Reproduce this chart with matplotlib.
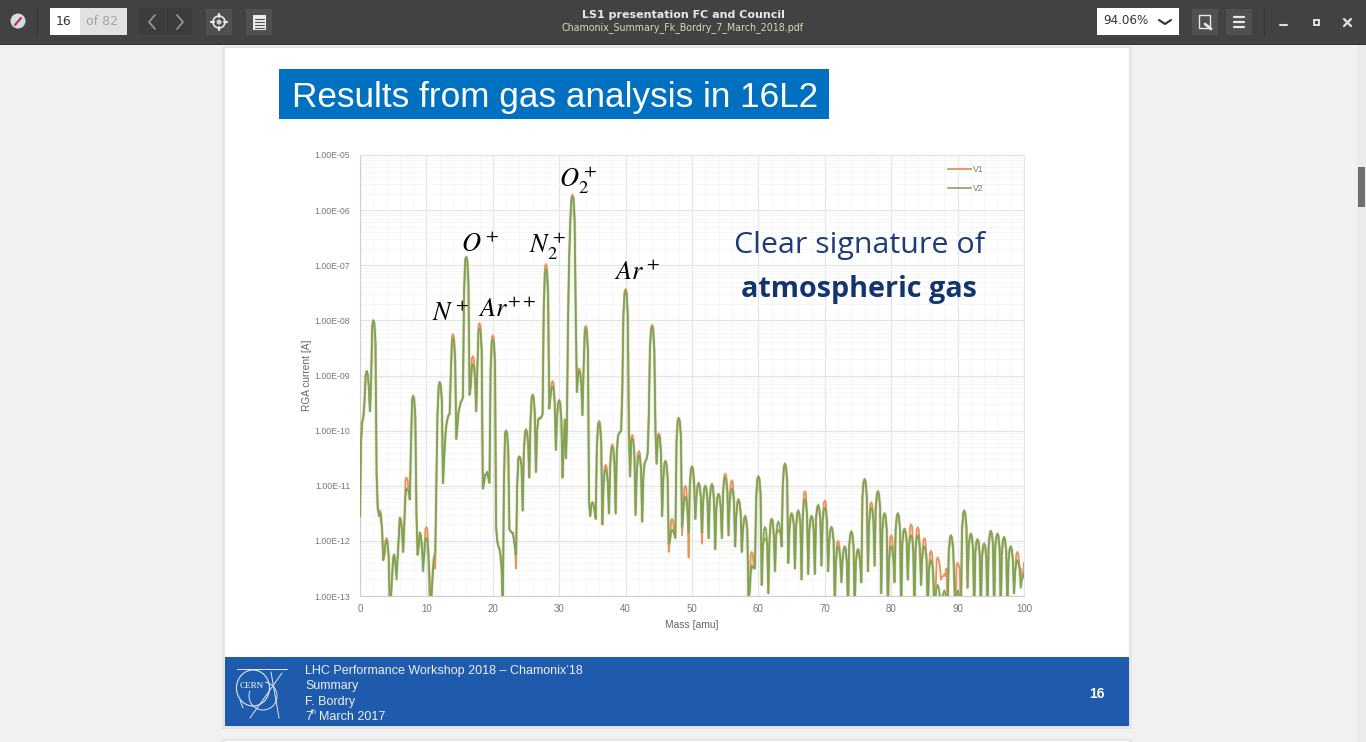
import numpy as np
import matplotlib
matplotlib.use('Agg')
import matplotlib.pyplot as plt
from matplotlib.patches import Rectangle, Circle, Ellipse
from matplotlib.ticker import MultipleLocator, LogLocator, NullFormatter, FuncFormatter

plt.rcParams['mathtext.fontset'] = 'stix'
plt.rcParams['font.family'] = ['Liberation Sans', 'DejaVu Sans']

# sample points inside one amu
amu_steps = [0, 0.15, 0.33, 0.5, 0.67, 0.85]

# log10 of RGA current, one row per amu, at the amu_steps above
v2_log = [
    -11.55, -10.2, -9.85, -9.78, -9.5, -9.0,
    -8.92, -8.97, -9.2, -9.65, -9.1, -8.1,
    -8.0, -8.05, -8.4, -10.8, -11.4, -11.55,
    -11.5, -11.6, -11.8, -12.35, -12.25, -12.05,
    -12.0, -12.05, -12.3, -13.3, -13.0, -12.6,
    -12.3, -12.25, -12.4, -12.7, -12.3, -11.9,
    -11.58, -11.62, -11.8, -12.2, -11.7, -11.2,
    -11.05, -11.07, -11.1, -11.25, -10.3, -9.45,
    -9.37, -9.42, -9.75, -11.5, -12.25, -12.1,
    -11.85, -11.9, -12.1, -12.55, -12.25, -12.0,
    -11.95, -12.0, -12.3, -12.7, -13.2, -12.8,
    -12.5, -12.3, -12.2, -11.0, -9.7, -9.2,
    -9.12, -9.17, -9.45, -10.95, -10.5, -10.1,
    -9.9, -9.8, -9.72, -9.7, -9.0, -8.4,
    -8.33, -8.38, -8.7, -10.15, -9.9, -9.65,
    -9.58, -9.5, -9.45, -9.4, -7.5, -6.9,
    -6.85, -6.9, -7.3, -9.35, -9.2, -8.85,
    -8.8, -8.85, -9.05, -9.65, -8.9, -8.2,
    -8.15, -8.2, -8.55, -11.05, -10.95, -10.8,
    -10.8, -10.75, -10.85, -10.95, -8.9, -8.4,
    -8.35, -8.4, -8.75, -11.75, -12.0, -12.1,
    -12.15, -12.25, -12.5, -13.3, -11.0, -10.05,
    -10.0, -10.05, -10.35, -11.8, -11.82, -11.85,
    -11.85, -11.95, -12.1, -12.25, -11.0, -10.5,
    -10.47, -10.5, -10.65, -11.45, -10.4, -10.03,
    -9.98, -10.02, -10.25, -10.85, -9.85, -9.4,
    -9.35, -9.4, -9.7, -10.75, -10.0, -9.8,
    -9.77, -9.78, -9.75, -9.7, -7.8, -7.15,
    -7.08, -7.13, -7.5, -9.6, -9.4, -9.25,
    -9.2, -9.25, -9.5, -10.35, -9.75, -9.5,
    -9.45, -9.5, -9.8, -10.85, -10.3, -9.8,
    -10.5, -10.0, -8.0, -6.9, -6.2, -5.82,
    -5.76, -5.8, -6.2, -8.0, -9.3, -9.0,
    -8.92, -8.96, -9.15, -9.72, -8.9, -8.25,
    -8.15, -8.2, -8.55, -11.3, -11.55, -11.35,
    -11.3, -11.33, -11.45, -11.6, -10.3, -9.92,
    -9.87, -9.92, -10.2, -11.7, -11.0, -10.75,
    -10.7, -10.75, -10.95, -11.5, -10.65, -10.35,
    -10.3, -10.35, -10.6, -11.5, -10.4, -10.1,
    -10.05, -10.03, -10.0, -9.3, -7.9, -7.52,
    -7.47, -7.52, -7.9, -10.0, -10.83, -10.2,
    -10.15, -10.2, -10.45, -11.53, -10.8, -10.5,
    -10.45, -10.5, -10.7, -11.65, -10.85, -10.6,
    -10.55, -10.52, -10.4, -9.7, -8.5, -8.17,
    -8.12, -8.17, -8.55, -10.0, -10.6, -10.15,
    -10.08, -10.13, -10.4, -11.55, -10.9, -10.6,
    -10.55, -10.6, -10.85, -12.05, -12.0, -11.85,
    -11.8, -11.82, -11.88, -11.95, -10.2, -9.82,
    -9.77, -9.82, -10.1, -11.75, -11.5, -11.25,
    -11.2, -11.25, -11.45, -11.85, -11.0, -10.7,
    -10.65, -10.7, -10.95, -11.6, -11.2, -11.0,
    -10.95, -11.0, -11.2, -11.85, -11.3, -11.05,
    -11.0, -11.05, -11.25, -11.95, -11.25, -11.02,
    -10.97, -11.02, -11.3, -12.15, -11.4, -11.2,
    -11.15, -11.2, -11.4, -11.95, -11.15, -10.9,
    -10.85, -10.9, -11.1, -11.9, -11.3, -11.1,
    -11.05, -11.1, -11.3, -12.1, -11.55, -11.3,
    -11.25, -11.3, -11.5, -12.2, -11.8, -11.6,
    -11.55, -11.6, -11.8, -13.0, -12.95, -12.6,
    -12.45, -12.47, -12.5, -12.5, -11.2, -10.88,
    -10.83, -10.88, -11.15, -12.8, -12.1, -11.8,
    -11.75, -11.8, -12.05, -12.95, -12.0, -11.65,
    -11.6, -11.65, -11.9, -12.55, -11.9, -11.7,
    -11.65, -11.7, -11.85, -12.1, -11.0, -10.65,
    -10.6, -10.65, -10.9, -12.4, -11.8, -11.55,
    -11.5, -11.55, -11.7, -12.5, -11.75, -11.5,
    -11.45, -11.5, -11.7, -12.7, -11.6, -11.3,
    -11.25, -11.3, -11.55, -12.6, -11.8, -11.6,
    -11.55, -11.6, -11.8, -12.6, -11.6, -11.4,
    -11.35, -11.4, -11.6, -12.45, -11.65, -11.45,
    -11.4, -11.45, -11.65, -12.55, -12.0, -11.8,
    -11.75, -11.8, -12.0, -13.0, -12.4, -12.15,
    -12.1, -12.15, -12.3, -12.75, -12.35, -12.15,
    -12.1, -12.15, -12.4, -13.3, -12.1, -11.88,
    -11.83, -11.88, -12.1, -13.3, -12.4, -12.2,
    -12.15, -12.2, -12.4, -12.75, -11.2, -10.93,
    -10.88, -10.93, -11.2, -12.55, -11.7, -11.45,
    -11.4, -11.45, -11.65, -12.45, -11.4, -11.15,
    -11.1, -11.15, -11.4, -12.95, -11.8, -11.55,
    -11.5, -11.55, -11.8, -13.3, -12.35, -12.15,
    -12.1, -12.15, -12.3, -12.75, -11.8, -11.55,
    -11.5, -11.55, -11.8, -13.3, -12.05, -11.83,
    -11.78, -11.83, -12.0, -12.7, -12.1, -11.95,
    -11.9, -11.95, -12.2, -13.3, -12.15, -11.95,
    -11.9, -11.95, -12.15, -12.8, -12.3, -12.15,
    -12.1, -12.15, -12.35, -13.3, -12.55, -12.4,
    -12.35, -12.4, -12.6, -13.3, -13.0, -12.85,
    -12.8, -12.85, -13.0, -13.3, -13.1, -12.95,
    -12.9, -12.95, -13.1, -13.3, -12.2, -11.95,
    -11.9, -11.95, -12.15, -12.7, -13.3, -13.0,
    -12.9, -12.95, -13.1, -13.3, -11.8, -11.5,
    -11.45, -11.5, -11.75, -12.85, -12.1, -11.92,
    -11.87, -11.92, -12.15, -13.3, -12.2, -12.02,
    -11.97, -12.02, -12.25, -13.3, -12.3, -12.1,
    -12.05, -12.1, -12.3, -13.3, -12.1, -11.87,
    -11.82, -11.87, -12.05, -13.3, -12.1, -11.92,
    -11.87, -11.92, -12.15, -13.3, -12.2, -11.98,
    -11.93, -11.98, -12.2, -13.3, -12.35, -12.15,
    -12.1, -12.15, -12.35, -12.95, -12.55, -12.4,
    -12.35, -12.4, -12.5, -12.85, -12.7, -12.65,
    -12.6,
]

# V1 follows V2 except at these masses, where the orange line shows
v1_mass = [0.5, 3, 4, 5.5, 7, 9.5, 10, 10.5, 11.33, 14, 17, 18, 20, 23.5, 28, 29,
           32, 33, 34, 36, 37, 38, 40, 41, 42, 44, 45, 46.5, 47, 47.5, 48.5, 49,
           49.5, 51.5, 55, 56, 59, 59.5, 61, 63, 63.5, 67, 70, 71.5, 72, 77, 80,
           83, 84, 85, 86, 87, 87.33, 87.5, 87.67, 88, 88.33, 90, 90.33, 99, 99.5, 100]
v1_val = [-9.72, -11.45, -11.95, -12.6, -10.85, -12.4, -11.75, -13.3, -12.5, -8.25, -8.65, -8.05, -8.27, -12.5, -6.98, -9.1,
          -5.72, -8.87, -8.1, -9.82, -10.62, -10.25, -7.43, -10.08, -10.37, -8.08, -10.05, -12.2, -11.6, -11.9, -11.9, -11.0,
          -12.3, -12.05, -10.78, -10.9, -12.2, -12.2, -11.95, -11.8, -12.1, -11.1, -11.27, -13.3, -12.0, -11.3, -11.9,
          -11.7, -11.75, -11.95, -12.18, -12.3, -12.45, -12.7, -12.65, -12.6, -12.5, -12.4, -12.5, -12.2, -12.5, -12.4]

mass = np.array([n + s for n in range(101) for s in amu_steps])[:len(v2_log)]
v2 = 10.0 ** np.array(v2_log)
v1_l = np.array(v2_log)
for m, val in zip(v1_mass, v1_val):
    i = int(np.argmin(np.abs(mass - m)))
    v1_l[i] = val
    if float(m).is_integer() and 0 < i < len(v1_l) - 1:
        v1_l[i - 1] = val - 0.04   # round the cap of the arch
        v1_l[i + 1] = val - 0.04
v1 = 10.0 ** v1_l

peak_labels = [(432, 314, r'$N^+$'), (461, 245, r'$O^+$'), (478, 310, r'$Ar^{++}$'),
               (529, 246, r'$N_2^+$'), (559, 180, r'$O_2^+$'), (614, 273, r'$Ar^+$')]
footer_lines = ["LHC Performance Workshop 2018 \u2013 Chamonix\u201918", "Summary", "F. Bordry"]

W, H = 1366, 742
fig = plt.figure(figsize=(W / 100, H / 100), dpi=100, facecolor='#f1f1f1')

# page, toolbar etc. drawn in pixel coordinates
bg = fig.add_axes([0, 0, 1, 1])
bg.set_xlim(0, W)
bg.set_ylim(H, 0)
bg.axis('off')

def box(x0, y0, x1, y1, c, z=1, **kw):
    bg.add_patch(Rectangle((x0, y0), x1 - x0, y1 - y0, facecolor=c, edgecolor='none', zorder=z, **kw))

def seg(xs, ys, c='white', lw=1.0, z=3):
    bg.plot(xs, ys, color=c, lw=lw, zorder=z, solid_capstyle='round')

box(222, 46, 1132, 729, '#e6e6e6')
box(225, 48, 1129, 726, 'white')
box(222, 739, 1132, 742, '#e4e4e4')
box(225, 741, 1129, 742, 'white', z=2)
box(0, 0, W, 44, '#424242')
box(0, 44, W, 45, '#333333')
box(1357, 45, W, H, '#ebebeb')
box(1358, 167, 1365, 207, '#6f6f6f')

# toolbar left
bg.add_patch(Circle((18, 21), 7.5, facecolor='#cfdde8', edgecolor='none', zorder=2))
seg([15, 21], [25, 18], '#c8343a', 1.6)
seg([37, 37], [8, 35], '#383838', 1)
box(50, 8, 80, 35, 'white')
box(80, 8, 127, 35, '#e2e2e2')
bg.text(56, 21.5, '16', fontsize=9, family='DejaVu Sans', color='#333333', va='center', zorder=3)
bg.text(86, 21.5, 'of 82', fontsize=9, family='DejaVu Sans', color='#a3a3a3', va='center', zorder=3)
box(139, 8, 165, 35, '#3c3c3c')
box(166, 8, 192, 35, '#3c3c3c')
seg([155, 149, 155], [15, 22, 29], '#9a9a9a', 1.2)
seg([177, 183, 177], [15, 22, 29], '#9a9a9a', 1.2)
box(206, 9, 232, 35, '#505050')
box(246, 9, 272, 35, '#505050')
bg.add_patch(Circle((219, 22), 6, facecolor='none', edgecolor='#e8e8e8', lw=1.2, zorder=3))
bg.add_patch(Circle((219, 22), 2.5, facecolor='#d0d0d0', edgecolor='none', zorder=3))
seg([211, 214], [22, 22], '#e8e8e8', 1.6)
seg([224, 227], [22, 22], '#e8e8e8', 1.6)
seg([219, 219], [14, 17], '#e8e8e8', 1.6)
seg([219, 219], [27, 30], '#e8e8e8', 1.6)
box(253, 15, 266, 30, '#eeeeee', z=3)
for yy in (19, 22, 25, 27.5):
    seg([255, 264], [yy, yy], '#505050', 0.8, z=4)

# toolbar middle
bg.text(683, 15, 'LS1 presentation FC and Council', fontsize=8, family='DejaVu Sans', weight='bold',
        color='#e8e8e8', ha='center', va='center', zorder=3)
bg.text(683, 28, 'Chamonix_Summary_Fk_Bordry_7_March_2018.pdf', fontsize=6.85, family='DejaVu Sans',
        color='#d8d8b8', ha='center', va='center', zorder=3)

# toolbar right
box(1097, 8, 1179, 35, 'white')
bg.text(1103, 21, '94.06%', fontsize=8.6, family='DejaVu Sans', color='#333333', va='center', zorder=3)
seg([1159, 1165, 1171], [20, 24, 20], '#333333', 1.5)
box(1192, 9, 1218, 35, '#505050')
box(1226, 9, 1252, 35, '#505050')
seg([1199, 1210, 1210, 1199, 1199], [15, 15, 28, 28, 15], '#e8e8e8', 1)
seg([1205, 1211], [24, 29], '#e8e8e8', 2)
for yy in (17, 22, 27):
    seg([1234, 1244], [yy, yy], '#e8e8e8', 1.6)
seg([1264, 1264], [8, 35], '#383838', 1)
seg([1280, 1287], [25, 25], '#e0e0e0', 1.5)
bg.add_patch(Rectangle((1313.5, 19.5), 5, 5, facecolor='none', edgecolor='#e0e0e0', lw=1.4, zorder=3))
seg([1344, 1351], [19, 26], '#e0e0e0', 1.6)
seg([1344, 1351], [26, 19], '#e0e0e0', 1.6)

# slide title
box(279, 69, 829, 119, '#0070c0', z=2)
bg.text(292, 97, 'Results from gas analysis in 16L2', fontsize=25.25, color='white', va='center', zorder=3)

# slide footer
box(225, 657, 1129, 726, '#1f5bad', z=2)
for i, s in enumerate(footer_lines):
    bg.text(305, 671 + i * 15.4, s, fontsize=9, color='#f0f0f0', va='center', zorder=3)
bg.text(305, 717, '7', fontsize=9, color='#f0f0f0', va='center', zorder=3)
bg.text(310.5, 713, 'th', fontsize=5, color='#f0f0f0', va='center', zorder=3)
bg.text(319, 717, 'March 2017', fontsize=9, color='#f0f0f0', va='center', zorder=3)
bg.text(1097, 694, '16', fontsize=10, weight='bold', color='white', ha='center', va='center', zorder=3)

# CERN logo
bg.add_patch(Ellipse((253, 688), 33, 36, facecolor='none', edgecolor='#dfe8f4', lw=0.8, zorder=3))
bg.add_patch(Circle((263, 696), 14, facecolor='none', edgecolor='#dfe8f4', lw=0.7, zorder=3))
seg([237, 287], [669, 669], '#dfe8f4', 0.7)
seg([271, 279], [672, 718], '#dfe8f4', 0.7)
seg([282, 250], [673, 718], '#dfe8f4', 0.7)
seg([240, 243], [700, 708], '#dfe8f4', 0.7)
bg.text(252, 686, 'CERN', fontsize=6.6, family='Liberation Serif', color='white', ha='center', va='center', zorder=4,
        bbox=dict(facecolor='#1f5bad', edgecolor='none', pad=0.5))

# the chart
x0, x1, y0, y1 = 360, 1024, 155, 596
ax = fig.add_axes([x0 / W, 1 - y1 / H, (x1 - x0) / W, (y1 - y0) / H])
ax.set_facecolor('white')
ax.semilogy(mass, v1, color='#e8945c', lw=1.35, label='V1', zorder=3)
ax.semilogy(mass, v2, color='#84ac60', lw=2.4, alpha=0.25, zorder=4)
ax.semilogy(mass, v2, color='#7aa555', lw=1.15, label='V2', zorder=5)
ax.set_xlim(0, 100)
ax.set_ylim(1e-13, 1e-5)
ax.xaxis.set_major_locator(MultipleLocator(10))
ax.xaxis.set_minor_locator(MultipleLocator(2))
ax.yaxis.set_major_locator(LogLocator(base=10, numticks=12))
ax.yaxis.set_minor_locator(LogLocator(base=10, subs=np.arange(2, 10), numticks=12))
ax.yaxis.set_minor_formatter(NullFormatter())
ax.yaxis.set_major_formatter(FuncFormatter(lambda v, p: '1.00E-%02d' % round(-np.log10(v))))
ax.grid(True, which='major', color='#e4e4e4', lw=0.9)
ax.grid(True, which='minor', color='#f5f5f5', lw=0.6)
ax.set_axisbelow(True)
ax.tick_params(which='both', length=0)
ax.tick_params(axis='y', labelsize=6.3, labelcolor='#777777', pad=7)
ax.tick_params(axis='x', labelsize=7, labelcolor='#777777', pad=6)
for side in ax.spines:
    ax.spines[side].set_color('#e4e4e4')
ax.spines['bottom'].set_color('#cfcfcf')
ax.spines['left'].set_color('#cfcfcf')
ax.set_xlabel('Mass [amu]', fontsize=7.4, color='#666666', labelpad=4)
ax.set_ylabel('RGA current [A]', fontsize=7.3, color='#666666', labelpad=2)
ax.legend(loc='upper right', bbox_to_anchor=(0.945, 0.985), frameon=False, fontsize=6.2, labelcolor='#777777',
          handlelength=2.7, labelspacing=1.1, handletextpad=0.3, borderaxespad=0)

# text over the chart
top = fig.add_axes([0, 0, 1, 1], facecolor='none')
top.set_xlim(0, W)
top.set_ylim(H, 0)
top.axis('off')
for px, py, s in peak_labels:
    top.text(px, py, s, fontsize=19, color='black', va='center')
top.text(859, 246, 'Clear signature of', fontsize=21.9, family='Open Sans', color='#1d3c78', ha='center', va='center')
top.text(859, 289, 'atmospheric gas', fontsize=20.7, family='Open Sans', weight='bold', color='#12346f', ha='center', va='center')

fig.savefig('out.png', dpi=100, facecolor=fig.get_facecolor())
